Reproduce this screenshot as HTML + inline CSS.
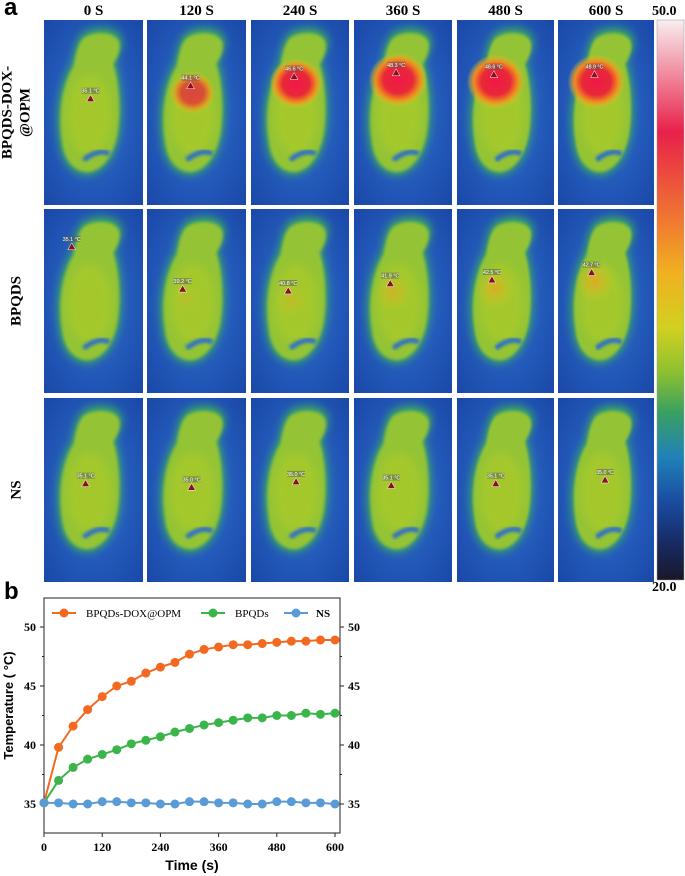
<!DOCTYPE html>
<html><head><meta charset="utf-8">
<style>
body{margin:0;background:#fff;width:685px;height:876px;overflow:hidden;font-family:"Liberation Serif",serif;}
#root{position:relative;width:685px;height:876px;}
.t{position:absolute;font-weight:bold;}
</style></head>
<body>
<div id="root">
<div class="t" style="left:4px;top:-6px;font-family:'Liberation Sans',sans-serif;font-size:24px;">a</div>
<div class="t" style="left:4px;top:578px;font-family:'Liberation Sans',sans-serif;font-size:24px;">b</div>
<svg id="thermal" width="685" height="600" style="position:absolute;left:0;top:0">
<defs>
<linearGradient id="cbar" x1="0" y1="0" x2="0" y2="1">
<stop offset="0" stop-color="#f8eeee"/><stop offset="0.2" stop-color="#e8204a"/><stop offset="0.36" stop-color="#f07a30"/><stop offset="0.45" stop-color="#f0b020"/><stop offset="0.55" stop-color="#d2d020"/><stop offset="0.63" stop-color="#8cc030"/><stop offset="0.7" stop-color="#3aa060"/><stop offset="0.78" stop-color="#2082b8"/><stop offset="0.86" stop-color="#1a4ca0"/><stop offset="0.93" stop-color="#182c68"/><stop offset="1" stop-color="#181828"/>
</linearGradient>
<radialGradient id="bg" cx="0.5" cy="0.5" r="0.7"><stop offset="0" stop-color="#2f6fd0"/><stop offset="1" stop-color="#1a48a8"/></radialGradient>
<radialGradient id="hot" cx="0.5" cy="0.5" r="0.5"><stop offset="0" stop-color="#f01848"/><stop offset="0.5" stop-color="#e82838"/><stop offset="0.75" stop-color="#f08a20"/><stop offset="1" stop-color="#f0c020" stop-opacity="0"/></radialGradient>
<radialGradient id="warm" cx="0.5" cy="0.5" r="0.5"><stop offset="0" stop-color="#f0a020"/><stop offset="1" stop-color="#e0c820" stop-opacity="0"/></radialGradient>
<filter id="b1" x="-0.3" y="-0.3" width="1.6" height="1.6"><feGaussianBlur stdDeviation="4"/></filter>
<filter id="b2" x="-0.3" y="-0.3" width="1.6" height="1.6"><feGaussianBlur stdDeviation="1.5"/></filter>
</defs>
</svg>
<div class="t" style="left:652px;top:4px;font-size:14px;">50.0</div>
<div class="t" style="left:652px;top:580px;font-size:14px;">20.0</div>
<svg id="chart" width="685" height="280" style="position:absolute;left:0;top:596px"></svg>
</div>
<script>
const NS='http://www.w3.org/2000/svg';
function mk(p,tag,a){const e=document.createElementNS(NS,tag);for(const k in a)e.setAttribute(k,a[k]);p.appendChild(e);return e;}
const colTitles=['0 S','120 S','240 S','360 S','480 S','600 S'];
const rowTitles=[['BPQDS-DOX-','@OPM'],['BPQDS'],['NS']];
const rowLabels=[['35.1 °C','44.1 °C','46.6 °C','48.3 °C','48.6 °C','48.9 °C'],['35.1 °C','39.2 °C','40.8 °C','41.9 °C','42.5 °C','42.7 °C'],['35.1 °C','35.0 °C','35.0 °C','35.1 °C','35.1 °C','35.0 °C']];
const heat=[[0,0.6,0.85,1,1,1],[0,0.15,0.25,0.4,0.5,0.55],[0,0,0,0,0,0]];
const mx=[[0.47,0.44,0.44,0.43,0.38,0.38],[0.28,0.36,0.38,0.37,0.36,0.35],[0.42,0.45,0.46,0.38,0.40,0.49]];
const my=[[0.42,0.35,0.30,0.28,0.29,0.29],[0.20,0.43,0.44,0.40,0.38,0.34],[0.46,0.48,0.45,0.47,0.46,0.44]];
const colX=[44,147,251,354,457,558],colW=[99,99,98,98,97,96];
const rowY=[20,209,398],rowH=[185,184,184];
const th=document.getElementById('thermal');
colTitles.forEach((t,i)=>{const e=mk(th,'text',{x:colX[i]+colW[i]/2,y:15,'text-anchor':'middle','font-size':15,'font-weight':'bold','font-family':'Liberation Serif'});e.textContent=t;});
rowTitles.forEach((lines,r)=>{const cy=rowY[r]+rowH[r]/2;lines.forEach((l,j)=>{const x=17+j*18-(lines.length-1)*9;const e=mk(th,'text',{x:x,y:cy,'text-anchor':'middle','font-size':15,'font-weight':'bold','font-family':'Liberation Serif',transform:`rotate(-90 ${x} ${cy})`,'dominant-baseline':'middle'});e.textContent=l;});});
const bodyPath='M40,18 C52,10 72,12 76,22 C78,30 74,38 70,44 C76,62 78,92 74,115 C70,135 60,150 45,152 C30,152 20,140 18,120 C14,95 18,65 30,46 C32,35 34,24 40,18Z';
for(let r=0;r<3;r++)for(let c=0;c<6;c++){
 const g=mk(th,'svg',{x:colX[c],y:rowY[r],width:colW[c],height:rowH[r],viewBox:'0 0 100 185',preserveAspectRatio:'none'});
 
 mk(g,'rect',{x:0,y:0,width:100,height:185,fill:'url(#bg)'});
 mk(g,'path',{d:bodyPath,fill:'#3aa860',filter:'url(#b1)',transform:'translate(-4,-6) scale(1.08,1.06)'});
 mk(g,'path',{d:bodyPath,fill:'#94c434',filter:'url(#b2)'});
 mk(g,'ellipse',{cx:46,cy:95,rx:22,ry:40,fill:'#b0cc28',opacity:0.6,filter:'url(#b1)'});
 mk(g,'path',{d:'M40,140 C50,132 60,130 66,134',stroke:'#2e70c8','stroke-width':5,fill:'none',filter:'url(#b2)'});
 const hx=mx[r][c]*100,hy=my[r][c]*185,h=heat[r][c];
 if(h>0){ if(r===0) mk(g,'ellipse',{cx:hx+2,cy:hy+8,rx:12+18*h,ry:12+15*h,fill:'url(#hot)',opacity:Math.min(1,h+0.15)});
  else mk(g,'ellipse',{cx:hx+3,cy:hy+10,rx:14+12*h,ry:14+12*h,fill:'url(#warm)',opacity:h*1.4});}
 mk(g,'rect',{x:hx-9,y:hy-10,width:18,height:6,fill:'#555',opacity:0.5});
 const lt=mk(g,'text',{x:hx,y:hy-5,'text-anchor':'middle','font-size':5.5,fill:'#fff','font-family':'Liberation Sans'});lt.textContent=rowLabels[r][c];
 mk(g,'polygon',{points:`${hx},${hy-3} ${hx-4},${hy+4} ${hx+4},${hy+4}`,fill:'#8a1020',stroke:'#fff','stroke-width':0.5});
}
const cb=mk(th,'rect',{x:657,y:20,width:27,height:560,fill:'url(#cbar)',stroke:'#999','stroke-width':0.5});

// ---- chart ----
const times=[0,30,60,90,120,150,180,210,240,270,300,330,360,390,420,450,480,510,540,570,600];
const seriesNames=['BPQDs-DOX@OPM','BPQDs','NS'];
const orange=[35.1,39.8,41.6,43.0,44.1,45.0,45.4,46.1,46.6,47.0,47.7,48.1,48.3,48.5,48.5,48.6,48.7,48.8,48.8,48.9,48.9];
const green=[35.1,37.0,38.1,38.8,39.2,39.6,40.1,40.4,40.7,41.1,41.4,41.7,41.9,42.1,42.3,42.3,42.5,42.5,42.7,42.6,42.7];
const blue=[35.1,35.1,35.0,35.0,35.2,35.2,35.1,35.1,35.0,35.0,35.2,35.2,35.1,35.1,35.0,35.0,35.2,35.2,35.1,35.1,35.0];
const xTicks=[0,120,240,360,480,600];
const yTicks=[35,40,45,50];
const yMinor=[37.5,42.5,47.5];
const ch=document.getElementById('chart');
const L=44,R=340,T=2,B=237;
const X=v=>L+(v-0)*(335-44)/600;
const Y=v=>(804-596)-(v-35)*(177/15);
const ax=mk(ch,'rect',{x:L,y:T,width:R-L,height:B-T,fill:'none',stroke:'#222','stroke-width':1});

xTicks.forEach(v=>{mk(ch,'line',{x1:X(v),x2:X(v),y1:B,y2:B+4,stroke:'#222'});const t=mk(ch,'text',{x:X(v),y:B+18,'text-anchor':'middle','font-size':12,'font-weight':'bold','font-family':'Liberation Serif'});t.textContent=v;});
yTicks.forEach(v=>{mk(ch,'line',{x1:L-4,x2:L,y1:Y(v),y2:Y(v),stroke:'#222'});mk(ch,'line',{x1:R,x2:R+4,y1:Y(v),y2:Y(v),stroke:'#222'});
 const t=mk(ch,'text',{x:L-8,y:Y(v)+4,'text-anchor':'end','font-size':12,'font-weight':'bold','font-family':'Liberation Serif'});t.textContent=v;
 const t2=mk(ch,'text',{x:R+8,y:Y(v)+4,'font-size':12,'font-weight':'bold','font-family':'Liberation Serif'});t2.textContent=v;});
yMinor.forEach(v=>{mk(ch,'line',{x1:L-2,x2:L,y1:Y(v),y2:Y(v),stroke:'#222'});mk(ch,'line',{x1:R,x2:R+2,y1:Y(v),y2:Y(v),stroke:'#222'});});
const xt=mk(ch,'text',{x:(L+R)/2,y:B+37,'text-anchor':'middle','font-size':14,'font-weight':'bold','font-family':'Liberation Sans'});xt.textContent='Time (s)';
const yt=mk(ch,'text',{x:13,y:(T+B)/2-10,'text-anchor':'middle','font-size':13,'font-weight':'bold','font-family':'Liberation Sans',transform:`rotate(-90 13 ${(T+B)/2-10})`});yt.textContent='Temperature ( °C)';
const cols=['#f26a21','#3bb54a','#5b9bd5'];
[orange,green,blue].forEach((s,i)=>{
 const pl=mk(ch,'polyline',{points:s.map((v,j)=>X(times[j])+','+Y(v)).join(' '),fill:'none',stroke:cols[i],'stroke-width':2});
 
 s.forEach((v,j)=>{const c=mk(ch,'circle',{cx:X(times[j]),cy:Y(v),r:4.5,fill:cols[i]});});
});
const legX=[52,201,284],legTX=[86,235,316];
seriesNames.forEach((n,i)=>{mk(ch,'line',{x1:legX[i],x2:legX[i]+24,y1:17,y2:17,stroke:cols[i],'stroke-width':2});mk(ch,'circle',{cx:legX[i]+12,cy:17,r:4.5,fill:cols[i]});
 const t=mk(ch,'text',{x:legTX[i],y:21,'font-size':11,'font-family':'Liberation Serif','font-weight':i==2?'bold':'normal'});t.textContent=n;});
</script>
</body></html>
